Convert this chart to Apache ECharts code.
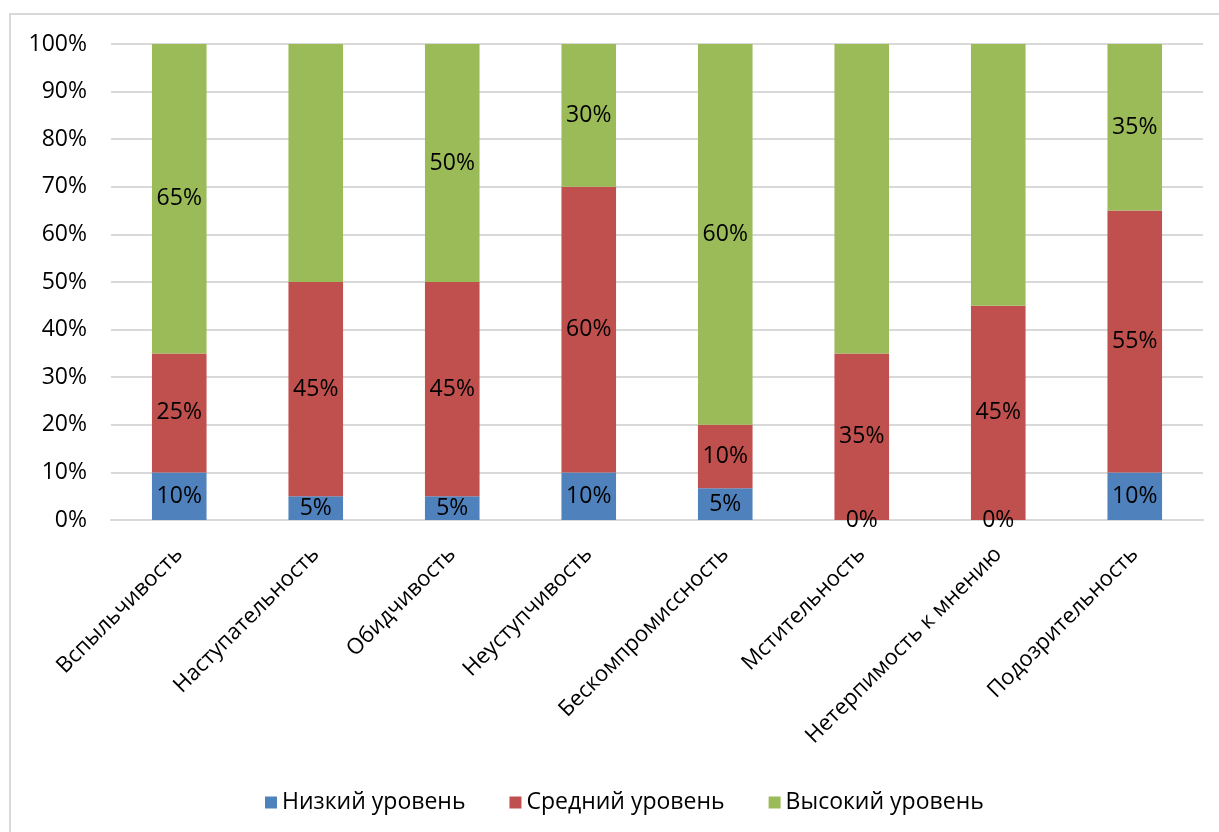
<!DOCTYPE html>
<html>
<head>
<meta charset="utf-8">
<script src="https://cdn.jsdelivr.net/npm/echarts@6/dist/echarts.min.js"></script>
<style>
  html, body { margin: 0; padding: 0; background: #fff; overflow: hidden; }
  #frame { position: absolute; left: 9px; top: 13px; width: 1240px; height: 860px; border: 2px solid #d9d9d9; box-sizing: border-box; }
  #chart { position: absolute; left: 0; top: 0; width: 1219px; height: 832px; }
</style>
</head>
<body>
<div id="frame"></div>
<div id="chart"></div>
<script>
const categories = ['Вспыльчивость', 'Наступательность', 'Обидчивость', 'Неуступчивость', 'Бескомпромиссность', 'Мстительность', 'Нетерпимость к мнению', 'Подозрительность'];
const seriesNames = ['Низкий уровень', 'Средний уровень', 'Высокий уровень'];
const lowValues = [10, 5, 5, 10, 5, 0, 0, 10];
const midValues = [25, 45, 45, 60, 10, 35, 45, 55];
const highValues = [65, 50, 50, 30, 60, 65, 55, 35];
const highLabelShown = [true, false, true, true, true, false, false, true];
const yTicks = [0, 10, 20, 30, 40, 50, 60, 70, 80, 90, 100];
const colors = ['#4F81BD', '#C0504D', '#9BBB59'];

const rawSeries = [lowValues, midValues, highValues];
const totals = categories.map((_, i) => lowValues[i] + midValues[i] + highValues[i]);
const FONT = '"Open Sans", "Noto Sans", sans-serif';

const series = rawSeries.map((vals, s) => ({
  name: seriesNames[s],
  type: 'bar',
  stack: 'total',
  barWidth: '40%',
  itemStyle: { color: colors[s] },
  data: vals.map((v, i) => ({
    value: v / totals[i] * 100,
    raw: v,
    label: { show: s !== 2 || highLabelShown[i] }
  })),
  label: {
    show: true,
    position: 'inside',
    color: '#000',
    fontFamily: FONT,
    fontSize: 23,
    formatter: p => p.data.raw + '%'
  }
}));

const chart = echarts.init(document.getElementById('chart'));
chart.setOption({
  animation: false,
  textStyle: { fontFamily: FONT },
  grid: { left: 111, right: 16, top: 44, bottom: 312, containLabel: false },
  legend: {
    data: seriesNames,
    left: 260,
    top: 786,
    icon: 'rect',
    itemWidth: 12,
    itemHeight: 12,
    itemGap: 44,
    textStyle: { fontFamily: FONT, fontSize: 23, color: '#000' }
  },
  xAxis: {
    type: 'category',
    data: categories,
    axisTick: { show: false },
    axisLine: { lineStyle: { color: '#d9d9d9', width: 2 } },
    axisLabel: { interval: 0, rotate: 45, fontFamily: FONT, fontSize: 22, color: '#000', margin: 31 }
  },
  yAxis: {
    type: 'value',
    min: yTicks[0],
    max: yTicks[yTicks.length - 1],
    interval: yTicks[1] - yTicks[0],
    axisLine: { show: false },
    axisTick: { show: false },
    splitLine: { lineStyle: { color: '#d9d9d9', width: 2 } },
    axisLabel: { formatter: '{value}%', fontFamily: FONT, fontSize: 23, color: '#000', margin: 24 }
  },
  series: series
});
</script>
</body>
</html>
